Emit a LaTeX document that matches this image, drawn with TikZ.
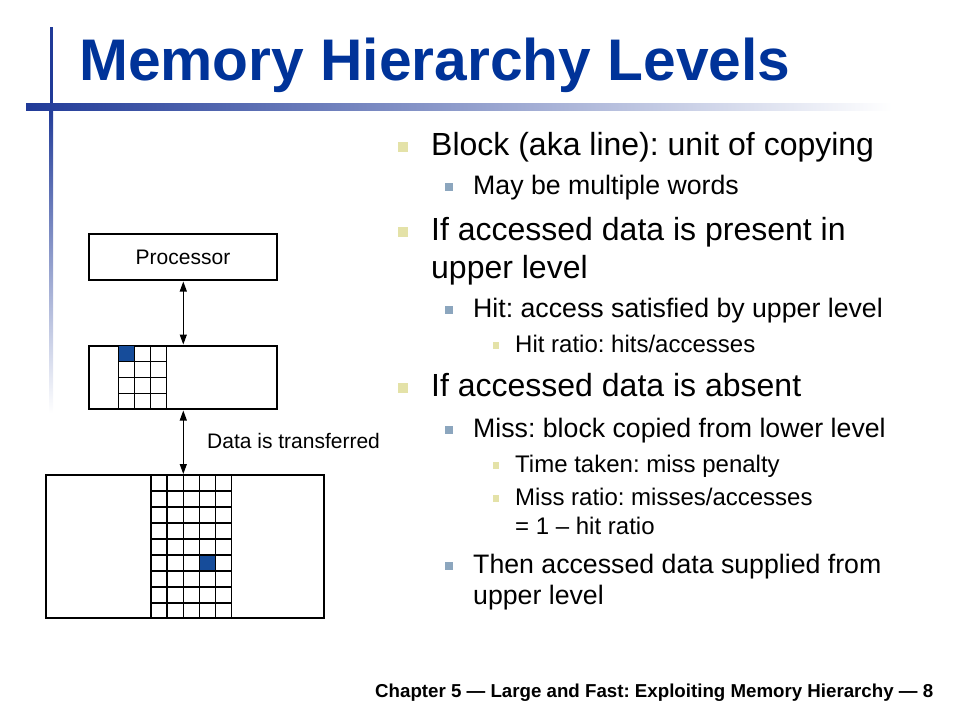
\documentclass[tikz,border=0pt]{standalone}
\usepackage{fontspec}
\setmainfont{Liberation Sans}
\usetikzlibrary{arrows.meta}
\definecolor{titleblue}{RGB}{0,51,153}
\definecolor{barblue}{RGB}{32,58,152}
\definecolor{barmid}{RGB}{140,146,190}
\definecolor{bulyel}{RGB}{228,226,168}
\definecolor{bulblue}{RGB}{140,166,190}
\definecolor{cellblue}{RGB}{22,76,154}
\frenchspacing
\begin{document}
\begin{tikzpicture}[x=1pt,y=-1pt,
  lone/.style={anchor=base west, inner sep=0pt, font=\fontsize{32}{38}\selectfont},
  ltwo/.style={anchor=base west, inner sep=0pt, font=\fontsize{26.7}{32}\selectfont},
  lthree/.style={anchor=base west, inner sep=0pt, font=\fontsize{24}{29}\selectfont},
  bone/.style={fill=bulyel, inner sep=0pt, minimum size=10pt},
  btwo/.style={fill=bulblue, inner sep=0pt, minimum size=8pt},
  bthree/.style={fill=bulyel, inner sep=0pt, minimum size=6.5pt},
  boxst/.style={draw, line width=1.3pt, inner sep=0pt, font=\fontsize{21}{25}\selectfont},
  gridln/.style={line width=1.2pt},
  conn/.style={line width=1.1pt, {Triangle[length=10pt,width=7pt]}-{Triangle[length=10pt,width=7pt]}}
]
\useasboundingbox (0,0) rectangle (960,720);
% decorative bars
\fill[barblue] (49.5,27) rectangle (53,106);
\shade[top color=barblue, middle color=barmid, bottom color=white] (49.5,106) rectangle (53,413);
\shade[left color=barblue, middle color=barmid, right color=white] (26,103) rectangle (892,110);
% title
\node[anchor=base west, inner sep=0pt, text=titleblue, font=\fontsize{58.7}{64}\selectfont\bfseries] (title) at (79,80) {Memory Hierarchy Levels};
% diagram
\node[boxst, minimum width=188pt, minimum height=46pt] (proc) at (183,257) {Processor};
\node[boxst, minimum width=188pt, minimum height=63pt] (upper) at (183,377.5) {};
\node[boxst, minimum width=278pt, minimum height=143pt] (lower) at (185,546.5) {};
% upper grid
\fill[cellblue] (118.5,345.5) rectangle (134.5,361.5);
\foreach \x in {118.5,134.5,150.5,166.5} \draw[gridln] (\x,346) -- (\x,409);
\foreach \y in {361.5,377.5,393.5} \draw[gridln] (118.5,\y) -- (166.5,\y);
% lower grid
\fill[cellblue] (199.5,555) rectangle (215.5,571);
\foreach \x in {151,167,183.5,199.5,215.5,231.5} \draw[gridln] (\x,475) -- (\x,618);
\foreach \k in {0,...,7} \draw[gridln] (151,491+16*\k) -- (231.5,491+16*\k);
% connectors
\coordinate (a1s) at (183.3,281.5);
\coordinate (a1e) at (183.3,344.5);
\coordinate (a2s) at (183.3,410.5);
\coordinate (a2e) at (183.3,474);
\draw[conn] (a1s) -- (a1e);
\draw[conn] (a2s) -- (a2e);
\node[anchor=base west, inner sep=0pt, font=\fontsize{21}{25}\selectfont] (xfer) at (207,448) {Data is transferred};
% bullets
\node[bone] (b1) at (403,146.5) {};
\node[lone] (t1) at (431,155) {Block (aka line): unit of copying};
\node[btwo] (b2) at (449,187) {};
\node[ltwo] (t2) at (473,194) {May be multiple words};
\node[bone] (b3) at (403,231.5) {};
\node[lone] (t3) at (431,240) {If accessed data is present in};
\node[lone] (t3b) at (431,278) {upper level};
\node[btwo] (b4) at (449,310) {};
\node[ltwo] (t4) at (473,317) {Hit: access satisfied by upper level};
\node[bthree] (b5) at (496,345.5) {};
\node[lthree] (t5) at (515,352) {Hit ratio: hits/accesses};
\node[bone] (b6) at (403,387.5) {};
\node[lone] (t6) at (431,396) {If accessed data is absent};
\node[btwo] (b7) at (449,430) {};
\node[ltwo] (t7) at (473,437) {Miss: block copied from lower level};
\node[bthree] (b8) at (496,465.5) {};
\node[lthree] (t8) at (515,472) {Time taken: miss penalty};
\node[bthree] (b9) at (496,498.5) {};
\node[lthree] (t9) at (515,505) {Miss ratio: misses/accesses};
\node[lthree] (t9b) at (515,534) {= 1 – hit ratio};
\node[btwo] (b10) at (449,566) {};
\node[ltwo] (t10) at (473,573) {Then accessed data supplied from};
\node[ltwo] (t10b) at (473,604) {upper level};
% footer
\node[anchor=base west, inner sep=0pt, font=\fontsize{18.7}{22}\selectfont\bfseries] (foot) at (375,697) {Chapter 5 — Large and Fast: Exploiting Memory Hierarchy — 8};
\end{tikzpicture}
\end{document}
